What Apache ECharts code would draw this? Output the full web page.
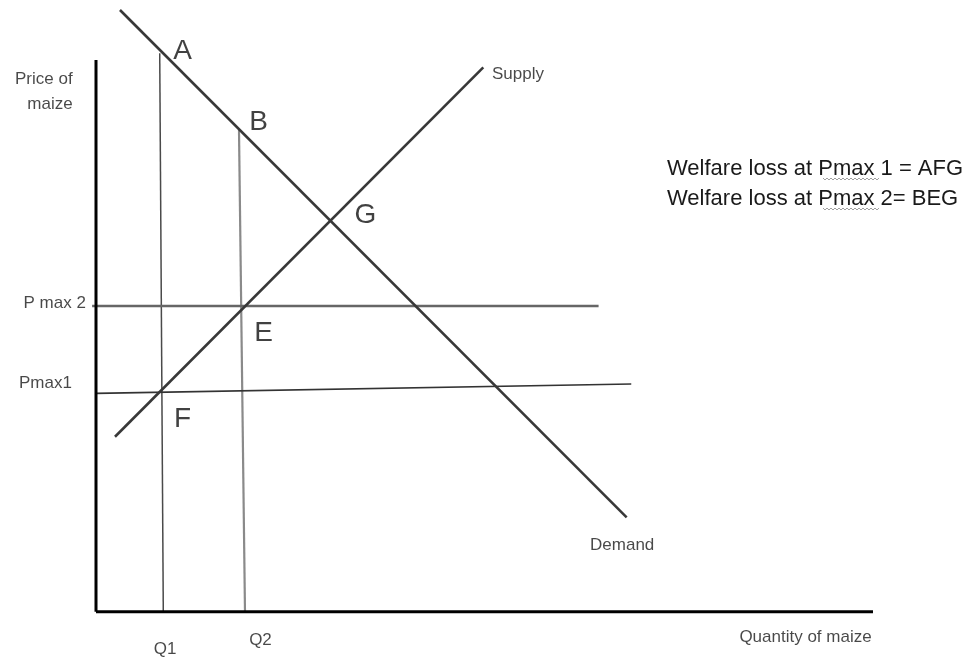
<!DOCTYPE html>
<html>
<head>
<meta charset="utf-8">
<script src="https://cdn.jsdelivr.net/npm/echarts@6/dist/echarts.min.js"></script>
<style>
  html, body { margin: 0; padding: 0; background: #fff; }
  #chart { width: 977px; height: 662px; }
</style>
</head>
<body>
<div id="chart"></div>
<script>
// curve end points, in chart units (quantity, price)
var demandLine = [[3.08, 100], [68.21, 15.71]];
var supplyLine = [[2.44, 29.1], [49.78, 90.48]];
var pmax2Line = [[-0.5, 50.8], [64.6, 50.8]];
var pmax1Line = [[0, 36.3], [68.8, 37.86]];
var q1Line = [[8.19, 92.8], [8.65, 0]];
var q2Line = [[18.38, 80.06], [19.15, 0]];
var yAxisLine = [[0, 91.7], [0, 0]];
var xAxisLine = [[0, 0], [99.87, 0]];

// point letters
var pointNames = ['A', 'B', 'G', 'E', 'F'];
var pointAt = [[11.12, 93.2], [20.89, 81.4], [34.64, 65.94], [21.53, 46.3], [11.12, 32.0]];

// small text labels
var tagNames = ['Supply', 'Demand', 'Q1', 'Q2', 'Quantity of maize', 'P max 2', 'Pmax1', 'Price of\nmaize'];
var tagAt = [[50.9, 89.3], [63.5, 11.1], [8.87, -6.2], [21.14, -4.72], [99.7, -4.3], [-1.3, 51.2], [-3.1, 37.9], [-3.0, 86.46]];
var tagAlign = ['left', 'left', 'center', 'center', 'right', 'right', 'right', 'right'];

var noteLines = ['Welfare loss at Pmax 1 = AFG', 'Welfare loss at Pmax 2= BEG'];

var chart = echarts.init(document.getElementById('chart'));

function seg(name, pts, color, width) {
    return {
        name: name,
        type: 'line',
        data: pts,
        symbol: 'none',
        clip: false,
        silent: true,
        lineStyle: { color: color, width: width }
    };
}

// spell-check style wavy underline
function squiggle(x0, y0, len) {
    var pts = [];
    for (var i = 0; i <= len; i += 2) {
        pts.push([x0 + i, y0 + ((i / 2) % 2 === 0 ? 0 : 2)]);
    }
    return {
        type: 'polyline',
        shape: { points: pts },
        style: { stroke: '#a0a0a0', lineWidth: 1, fill: null },
        silent: true
    };
}

var pointData = pointNames.map(function (n, i) {
    return { value: pointAt[i], name: n };
});
var tagData = tagNames.map(function (n, i) {
    return { value: tagAt[i], name: n, label: { align: tagAlign[i] } };
});

chart.setOption({
    backgroundColor: '#ffffff',
    animation: false,
    grid: { left: 18.2, right: 9.64, top: 10, bottom: 2 },
    xAxis: { type: 'value', min: -10, max: 112, show: false },
    yAxis: { type: 'value', min: -8, max: 100, show: false },
    series: [
        seg('Q1', q1Line, '#4a4a4a', 1.5),
        seg('Q2', q2Line, '#8a8a8a', 2.2),
        seg('Pmax2', pmax2Line, '#666666', 2.5),
        seg('Pmax1', pmax1Line, '#333333', 1.6),
        seg('Demand', demandLine, '#383838', 2.6),
        seg('Supply', supplyLine, '#383838', 2.6),
        seg('yAxis', yAxisLine, '#000000', 3),
        seg('xAxis', xAxisLine, '#000000', 3),
        {
            name: 'points',
            type: 'scatter',
            symbolSize: 0,
            silent: true,
            data: pointData,
            label: {
                show: true,
                position: 'inside',
                formatter: '{b}',
                color: '#111111',
                fontFamily: 'Liberation Sans',
                fontSize: 28
            }
        },
        {
            name: 'tags',
            type: 'scatter',
            symbolSize: 0,
            silent: true,
            clip: false,
            data: tagData,
            label: {
                show: true,
                position: 'inside',
                formatter: '{b}',
                color: '#1a1a1a',
                fontFamily: 'Liberation Sans',
                fontSize: 17,
                lineHeight: 25
            }
        }
    ],
    graphic: [
        {
            type: 'text',
            left: 667,
            top: 154,
            silent: true,
            style: {
                text: noteLines.join('\n'),
                font: '22px "Liberation Sans"',
                lineHeight: 30,
                fill: '#1a1a1a'
            }
        },
        squiggle(823, 178, 56),
        squiggle(823, 208, 56)
    ]
});
</script>
</body>
</html>
